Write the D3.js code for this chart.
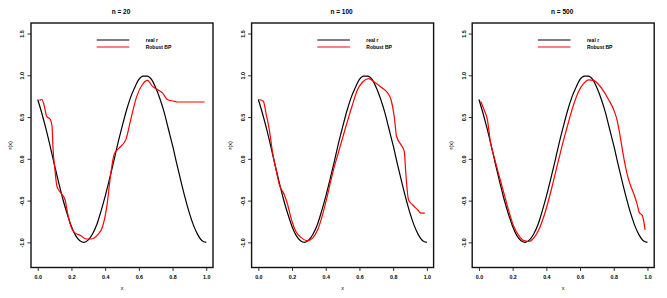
<!DOCTYPE html>
<html>
<head>
<meta charset="utf-8">
<script src="https://cdn.jsdelivr.net/npm/d3@7/dist/d3.min.js"></script>
<style>
    body { margin: 0; background: #fff; }
    text { font-family: "Liberation Sans", Arial, sans-serif; fill: #000; }
</style>
</head>
<body>
<div id="svg"></div>
<script>
// values
const panelTitles = ["n = 20", "n = 100", "n = 500"];
const xTicks = [0, 0.2, 0.4, 0.6, 0.8, 1];
const yTicks = [-1, -0.5, 0, 0.5, 1, 1.5];
const legendLabels = ["real r", "Robust BP"];

// the true regression function (black), read every 0.025
const realR = [
    [0, 0.71], [0.025, 0.54], [0.05, 0.35], [0.075, 0.14], [0.1, -0.08],
    [0.125, -0.29], [0.15, -0.49], [0.175, -0.66], [0.2, -0.81], [0.225, -0.92],
    [0.25, -0.98], [0.275, -1.0], [0.3, -0.97], [0.325, -0.9], [0.35, -0.79],
    [0.375, -0.63], [0.4, -0.45], [0.425, -0.25], [0.45, -0.04], [0.475, 0.18],
    [0.5, 0.38], [0.525, 0.57], [0.55, 0.73], [0.575, 0.85], [0.6, 0.95],
    [0.625, 0.99], [0.65, 0.99], [0.675, 0.95], [0.7, 0.85], [0.725, 0.72],
    [0.75, 0.56], [0.775, 0.36], [0.8, 0.16], [0.825, -0.06], [0.85, -0.27],
    [0.875, -0.47], [0.9, -0.65], [0.925, -0.8], [0.95, -0.91], [0.975, -0.98],
    [1, -1.0]
];

// robust backpropagation estimates (red)
const robust20 = [
    [0.01, 0.70], [0.025, 0.71], [0.039, 0.63], [0.053, 0.51], [0.075, 0.47],
    [0.085, 0.39], [0.09, 0.15], [0.102, -0.13], [0.114, -0.33], [0.138, -0.41],
    [0.162, -0.49], [0.177, -0.65], [0.197, -0.81], [0.217, -0.88], [0.256, -0.92],
    [0.286, -0.96], [0.315, -0.96], [0.355, -0.91], [0.385, -0.81], [0.41, -0.57],
    [0.434, -0.17], [0.453, 0.05], [0.483, 0.13], [0.523, 0.23], [0.552, 0.47],
    [0.588, 0.75], [0.621, 0.89], [0.651, 0.94], [0.68, 0.87], [0.71, 0.83],
    [0.74, 0.79], [0.769, 0.71], [0.808, 0.69], [0.828, 0.68], [0.99, 0.68]
];
const robust100 = [
    [0.006, 0.71], [0.03, 0.69], [0.045, 0.55], [0.065, 0.35], [0.085, 0.07],
    [0.105, -0.13], [0.125, -0.31], [0.154, -0.43], [0.174, -0.55], [0.194, -0.71],
    [0.223, -0.87], [0.253, -0.94], [0.292, -0.98], [0.322, -0.95], [0.352, -0.85],
    [0.381, -0.67], [0.411, -0.43], [0.441, -0.17], [0.48, 0.11], [0.52, 0.39],
    [0.559, 0.65], [0.589, 0.83], [0.619, 0.92], [0.654, 0.96], [0.688, 0.92],
    [0.727, 0.86], [0.767, 0.79], [0.787, 0.71], [0.806, 0.51], [0.82, 0.27],
    [0.846, 0.17], [0.866, 0.09], [0.875, -0.17], [0.891, -0.49], [0.915, -0.55],
    [0.945, -0.61], [0.964, -0.65], [0.988, -0.65]
];
const robust500 = [
    [0.01, 0.69], [0.03, 0.59], [0.05, 0.47], [0.069, 0.19], [0.089, 0.03],
    [0.118, -0.19], [0.148, -0.41], [0.178, -0.63], [0.207, -0.81], [0.237, -0.92],
    [0.266, -0.98], [0.296, -0.99], [0.325, -0.95], [0.355, -0.85], [0.385, -0.69],
    [0.414, -0.49], [0.444, -0.25], [0.473, -0.01], [0.503, 0.23], [0.533, 0.45],
    [0.562, 0.65], [0.592, 0.81], [0.621, 0.9], [0.651, 0.945], [0.68, 0.94],
    [0.71, 0.89], [0.74, 0.81], [0.769, 0.71], [0.799, 0.59], [0.819, 0.47],
    [0.838, 0.27], [0.858, 0.03], [0.878, -0.17], [0.898, -0.31], [0.917, -0.41],
    [0.937, -0.53], [0.951, -0.64], [0.97, -0.68], [0.986, -0.85]
];
const robustSeries = [robust20, robust100, robust500];

var DVizModule = (() => {

    const width = 667,
        height = 298,
        panelStep = 220.6,
        box = { left: 31, right: 213, top: 23, bottom: 267.5 };

    // R extends the ranges by 4%
    const xScale = d3.scaleLinear()
        .domain([-0.04, 1.04])
        .range([box.left, box.right]);

    const yScale = d3.scaleLinear()
        .domain([-1.301, 1.626])
        .range([box.bottom, box.top]);

    const line = d3.line()
        .x(d => xScale(d[0]))
        .y(d => yScale(d[1]))
        .curve(d3.curveMonotoneX);

    const svg = d3.select("#svg")
        .append("svg")
        .attr("width", width)
        .attr("height", height);

    svg.append("rect")
        .attr("width", width)
        .attr("height", height)
        .attr("fill", "#fff");

    panelTitles.forEach((title, i) => {
        const g = svg.append("g")
            .attr("transform", `translate(${i * panelStep},0)`);

        // x axis
        g.append("g")
            .attr("transform", `translate(0,${box.bottom})`)
            .call(d3.axisBottom(xScale).tickValues(xTicks).tickSize(3.5).tickFormat(d => d.toFixed(1)))
            .call(a => a.select(".domain").remove())
            .call(a => a.selectAll("line").attr("stroke", "#000").attr("stroke-width", 0.8))
            .call(a => a.selectAll("text")
                .attr("y", 11.5)
                .attr("dy", null)
                .attr("font-size", 5.3)
                .attr("font-weight", "bold")
                .attr("font-family", "Liberation Sans, Arial, sans-serif"));

        // y axis, labels parallel to the axis
        g.append("g")
            .attr("transform", `translate(${box.left},0)`)
            .call(d3.axisLeft(yScale).tickValues(yTicks).tickSize(3.5).tickFormat(d => d.toFixed(1)))
            .call(a => a.select(".domain").remove())
            .call(a => a.selectAll("line").attr("stroke", "#000").attr("stroke-width", 0.8))
            .call(a => a.selectAll("text")
                .attr("x", null)
                .attr("dy", null)
                .attr("transform", "translate(-6.7,0) rotate(-90)")
                .attr("text-anchor", "middle")
                .attr("font-size", 5.3)
                .attr("font-weight", "bold")
                .attr("font-family", "Liberation Sans, Arial, sans-serif"));

        g.append("rect")
            .attr("x", box.left)
            .attr("y", box.top)
            .attr("width", box.right - box.left)
            .attr("height", box.bottom - box.top)
            .attr("fill", "none")
            .attr("stroke", "#111")
            .attr("stroke-width", 1.4);

        g.append("path")
            .datum(realR)
            .attr("d", line)
            .attr("fill", "none")
            .attr("stroke", "#000")
            .attr("stroke-width", 1.2);

        g.append("path")
            .datum(robustSeries[i])
            .attr("d", line)
            .attr("fill", "none")
            .attr("stroke", "#ff0000")
            .attr("stroke-width", 1.2);

        const mid = (box.left + box.right) / 2;

        g.append("text")
            .attr("x", mid - 1)
            .attr("y", 14)
            .attr("text-anchor", "middle")
            .attr("font-size", 6.5)
            .attr("font-weight", "bold")
            .text(title);

        g.append("text")
            .attr("x", mid)
            .attr("y", 289.5)
            .attr("text-anchor", "middle")
            .attr("font-size", 5.5)
            .text("x");

        g.append("text")
            .attr("transform", `translate(11.5,${(box.top + box.bottom) / 2}) rotate(-90)`)
            .attr("text-anchor", "middle")
            .attr("font-size", 5.5)
            .text("r(x)");

        // legend
        const legend = g.append("g");
        legendLabels.forEach((label, k) => {
            const ly = 40 + k * 7;
            legend.append("line")
                .attr("x1", 96.7).attr("x2", 129.3)
                .attr("y1", ly).attr("y2", ly)
                .attr("stroke", k === 0 ? "#000" : "#ff0000")
                .attr("stroke-width", 1.2);
            legend.append("text")
                .attr("x", 145.7)
                .attr("y", ly + 2)
                .attr("font-size", 5)
                .attr("font-weight", "bold")
                .text(label);
        });
    });

})();
</script>
</body>
</html>
